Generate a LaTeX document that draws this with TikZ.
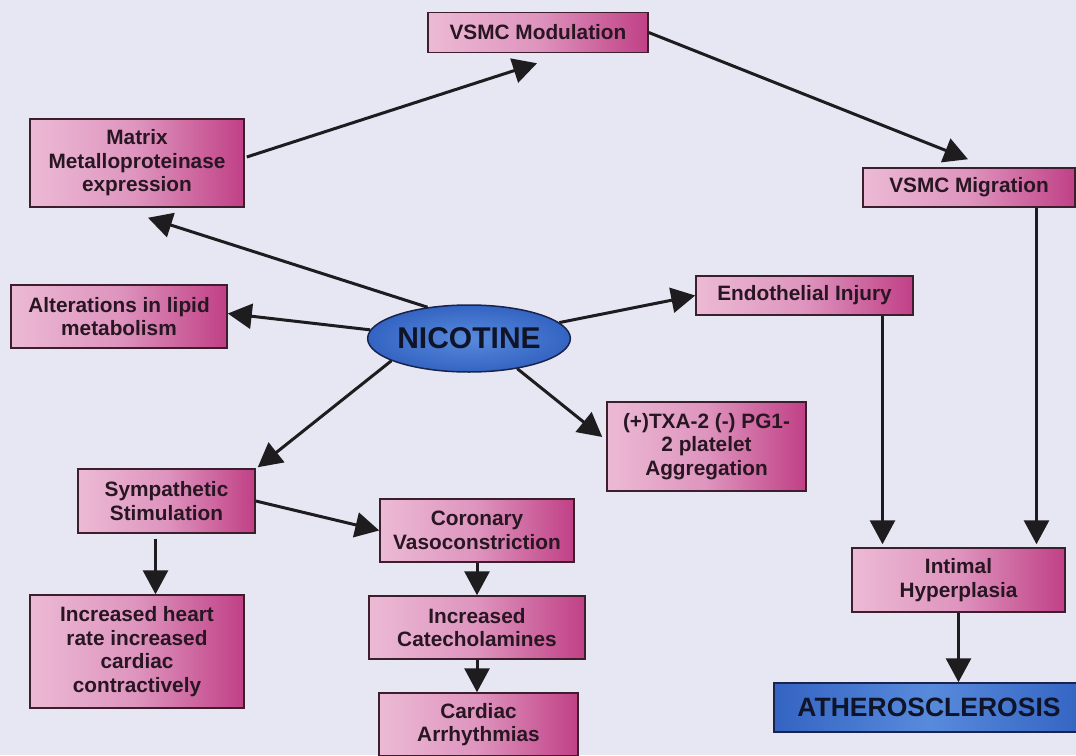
\documentclass[tikz,border=0pt]{standalone}
\usepackage{fontspec}
\setmainfont{Liberation Sans}
\usetikzlibrary{shapes.geometric,arrows.meta,calc}
\definecolor{bg}{RGB}{231,231,244}
\definecolor{boxL}{RGB}{236,186,213}
\definecolor{boxM}{RGB}{222,148,190}
\definecolor{boxR}{RGB}{192,64,134}
\definecolor{boxedge}{RGB}{60,30,45}
\definecolor{txt}{RGB}{40,22,34}
\definecolor{blueA}{RGB}{52,100,194}
\definecolor{blueB}{RGB}{88,138,220}
\definecolor{blueedge}{RGB}{25,35,75}
\definecolor{arrowc}{RGB}{30,28,30}
\tikzset{
  pbox/.style={draw=boxedge, line width=1.5pt, left color=boxL, right color=boxR, middle color=boxM,
    align=center, inner sep=0pt, text=txt, font=\bfseries\fontsize{20.8}{23.5}\selectfont},
  conn/.style={draw=arrowc, line width=3pt, -{Triangle[length=24pt,width=25pt]}},
}
\begin{document}
\begin{tikzpicture}[x=1pt,y=-1pt]
\path[use as bounding box] (0,0) rectangle (1076,755);
\clip (0,0) rectangle (1076,755);
\fill[bg] (0,0) rectangle (1076,755);

\node[pbox, minimum width=220pt, minimum height=40pt] (mod) at (538,32.5) {VSMC Modulation};
\node[pbox, minimum width=214pt, minimum height=88pt] (mmp) at (137,163) {Matrix\\Metalloproteinase\\expression};
\node[pbox, minimum width=216pt, minimum height=63pt] (lipid) at (119,316.5) {Alterations in lipid\\metabolism};
\node[ellipse, draw=blueedge, line width=1.5pt, inner color=blueB, outer color=blueA,
      minimum width=196pt, minimum height=67pt, inner sep=0pt, text={rgb,255:red,15;green,20;blue,40},
      font=\bfseries\fontsize{30}{30}\selectfont] (nic) at (469,338.5) {NICOTINE};
\node[pbox, minimum width=217pt, minimum height=39pt] (endo) at (804.5,295.5) {Endothelial Injury};
\node[pbox, minimum width=212pt, minimum height=39pt] (mig) at (969,187.5) {VSMC Migration};
\node[pbox, minimum width=199pt, minimum height=89pt] (txa) at (706.5,446.5) {(+)TXA-2 (-) PG1-\\2 platelet\\Aggregation};
\node[pbox, minimum width=177pt, minimum height=64pt] (symp) at (166.5,501) {Sympathetic\\Stimulation};
\node[pbox, minimum width=194pt, minimum height=63pt] (cor) at (477,530.5) {Coronary\\Vasoconstriction};
\node[pbox, minimum width=214pt, minimum height=113pt] (heart) at (137,651.5) {Increased heart\\rate increased\\cardiac\\contractively};
\node[pbox, minimum width=216pt, minimum height=63pt] (cat) at (477,627.5) {Increased\\Catecholamines};
\node[pbox, minimum width=199pt, minimum height=63pt] (arr) at (478.5,724.5) {Cardiac\\Arrhythmias};
\node[pbox, minimum width=213pt, minimum height=64pt] (int) at (958.5,580) {Intimal\\Hyperplasia};
\node[draw=blueedge, line width=1.5pt, left color=blueA, right color=blueA, middle color=blueB,
      minimum width=310pt, minimum height=49pt, inner sep=0pt, text={rgb,255:red,15;green,20;blue,40},
      font=\bfseries\fontsize{26.5}{26.5}\selectfont] (ath) at (929,707.5) {ATHEROSCLEROSIS};

\draw[conn] ($(mmp.east)+(2,-6)$) -- ($(mod.south)+(-1,10)$);
\draw[conn] (mod.east) -- ($(mig.north)+(-1,-8)$);
\draw[conn] (nic.143) -- ($(mmp.south)+(11,10)$);
\draw[conn] (nic.175) -- ($(lipid.east)+(0,-3)$);
\draw[conn] (nic.10) -- (endo.west);
\draw[conn] (nic.-32) -- ($(txa.west)+(-4,-9.5)$);
\draw[conn] (nic.196) -- ($(symp.north east)+(2,-1)$);
\draw[conn] (symp.east) -- (cor.west);
\coordinate (sh) at ($(symp.south)+(-11,5)$);
\draw[conn] (sh) -- (sh |- heart.north);
\draw[conn] (cor.south) -- (cat.north);
\draw[conn] (cat.south) -- (cat.south |- arr.north);
\coordinate (ei) at ($(endo.south)+(78,0)$);
\draw[conn] (ei) -- ($(ei |- int.north)+(0,-3)$);
\coordinate (mi) at ($(mig.south)+(67.5,0)$);
\draw[conn] (mi) -- ($(mi |- int.north)+(0,-3)$);
\draw[conn] (int.south) -- (int.south |- ath.north);
\end{tikzpicture}
\end{document}
